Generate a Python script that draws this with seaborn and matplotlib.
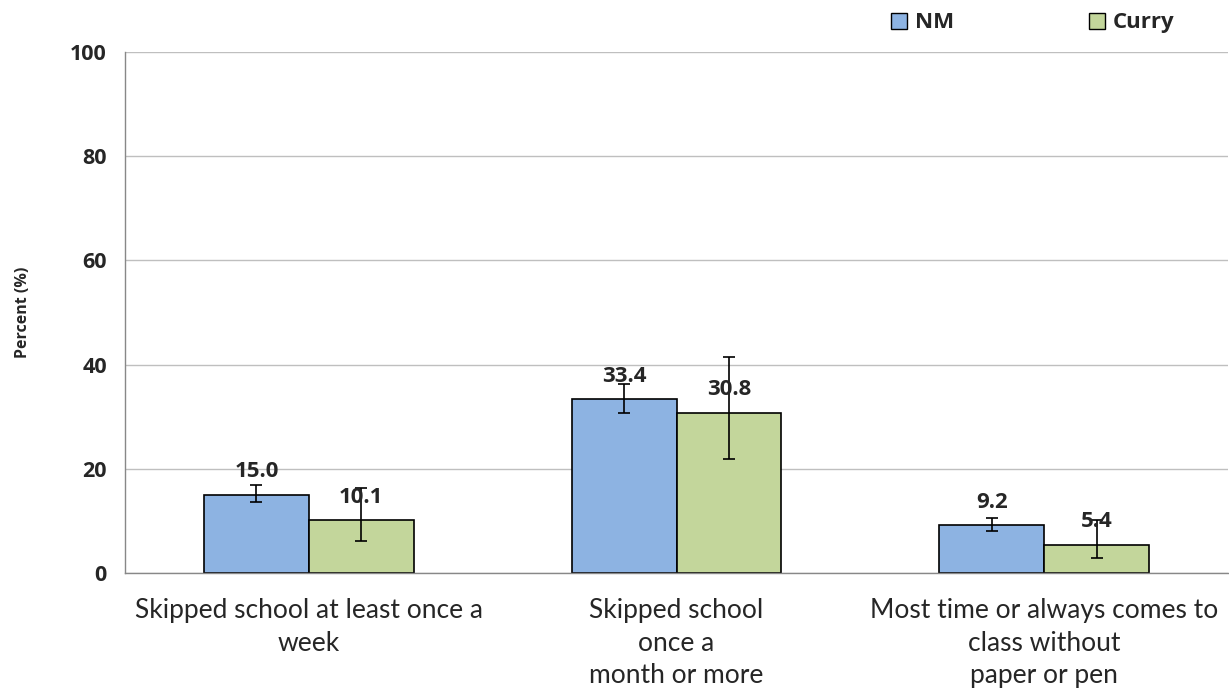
import pandas as pd
import matplotlib.pyplot as plt
import seaborn as sns
from matplotlib.patches import Patch

sns.set_theme(style="white")
plt.rcParams['font.family'] = ['Lato', 'DejaVu Sans']
BOLD = ['Open Sans', 'DejaVu Sans']

categories = ["Skipped school at least once a\nweek",
              "Skipped school\nonce a\nmonth or more",
              "Most time or always comes to\nclass without\npaper or pen"]
groups = ["NM", "Curry"]
nm_values = [15.0, 33.4, 9.2]
curry_values = [10.1, 30.8, 5.4]
nm_low = [13.6, 30.8, 8.0]
nm_high = [16.8, 36.2, 10.5]
curry_low = [6.2, 21.9, 2.8]
curry_high = [16.3, 41.4, 10.2]

colors = {"NM": "#8DB3E2", "Curry": "#C3D69B"}

df = pd.DataFrame({
    "category": categories * 2,
    "group": ["NM"] * 3 + ["Curry"] * 3,
    "value": nm_values + curry_values,
    "low": nm_low + curry_low,
    "high": nm_high + curry_high,
})

fig = plt.figure(figsize=(12.29, 6.96), dpi=100)
ax = fig.add_axes([0.1017, 0.1767, 0.8975, 0.7486])

sns.barplot(data=df, x="category", y="value", hue="group", order=categories,
            hue_order=groups, palette=colors, saturation=1, width=0.57,
            edgecolor="black", linewidth=1.2, errorbar=None, legend=False, ax=ax)

# error bars and value labels, matched to the drawn bars
for container, g in zip(ax.containers, groups):
    sub = df[df["group"] == g].set_index("category").loc[categories]
    for bar, (_, row) in zip(container, sub.iterrows()):
        xc = bar.get_x() + bar.get_width() / 2
        ax.errorbar(xc, row["value"],
                    yerr=[[row["value"] - row["low"]], [row["high"] - row["value"]]],
                    fmt="none", ecolor="black", elinewidth=1.2, capsize=4.3,
                    capthick=1.2, zorder=3)
        ax.annotate(f"{row['value']:.1f}", (xc, row["value"]),
                    xytext=(0, 16.5), textcoords="offset points",
                    ha="center", va="center", fontsize=16, fontweight="bold",
                    family=BOLD)

ax.set_ylim(0, 100)
ax.set_yticks(range(0, 101, 20))
ax.set_yticklabels([str(v) for v in range(0, 101, 20)], fontsize=15.5,
                   fontweight="bold", family=BOLD)
ax.yaxis.grid(True, color="#BFBFBF", linewidth=1)
ax.set_axisbelow(True)

ax.set_xlim(-0.5, 2.5)
ax.set_xticks([-0.5, 0.5, 1.5, 2.5])
ax.set_xticklabels([])
ax.set_xticks([0, 1, 2], minor=True)
ax.set_xticklabels(categories, minor=True, fontsize=19, linespacing=1.375)
ax.tick_params(axis="x", which="minor", length=0, pad=18)
ax.tick_params(axis="x", which="major", length=5, color="#888888", direction="out")
ax.tick_params(axis="y", length=5, color="#888888", direction="out", pad=8)
ax.set_xlabel("")
ax.set_ylabel("Percent (%)", fontsize=11.5, fontweight="bold", family=BOLD,
              labelpad=28)

for s in ["top", "right"]:
    ax.spines[s].set_visible(False)
for s in ["left", "bottom"]:
    ax.spines[s].set_color("#888888")
    ax.spines[s].set_linewidth(1)

handles = [Patch(facecolor=colors[g], edgecolor="black", label=g) for g in groups]
fig.legend(handles=handles, loc="center right", bbox_to_anchor=(0.972, 0.967),
           ncol=2, frameon=False, handlelength=0.75, handleheight=0.75,
           handletextpad=0.35, columnspacing=6.05,
           prop={"size": 16, "weight": "bold", "family": BOLD})

fig.savefig("out.png", dpi=100)
